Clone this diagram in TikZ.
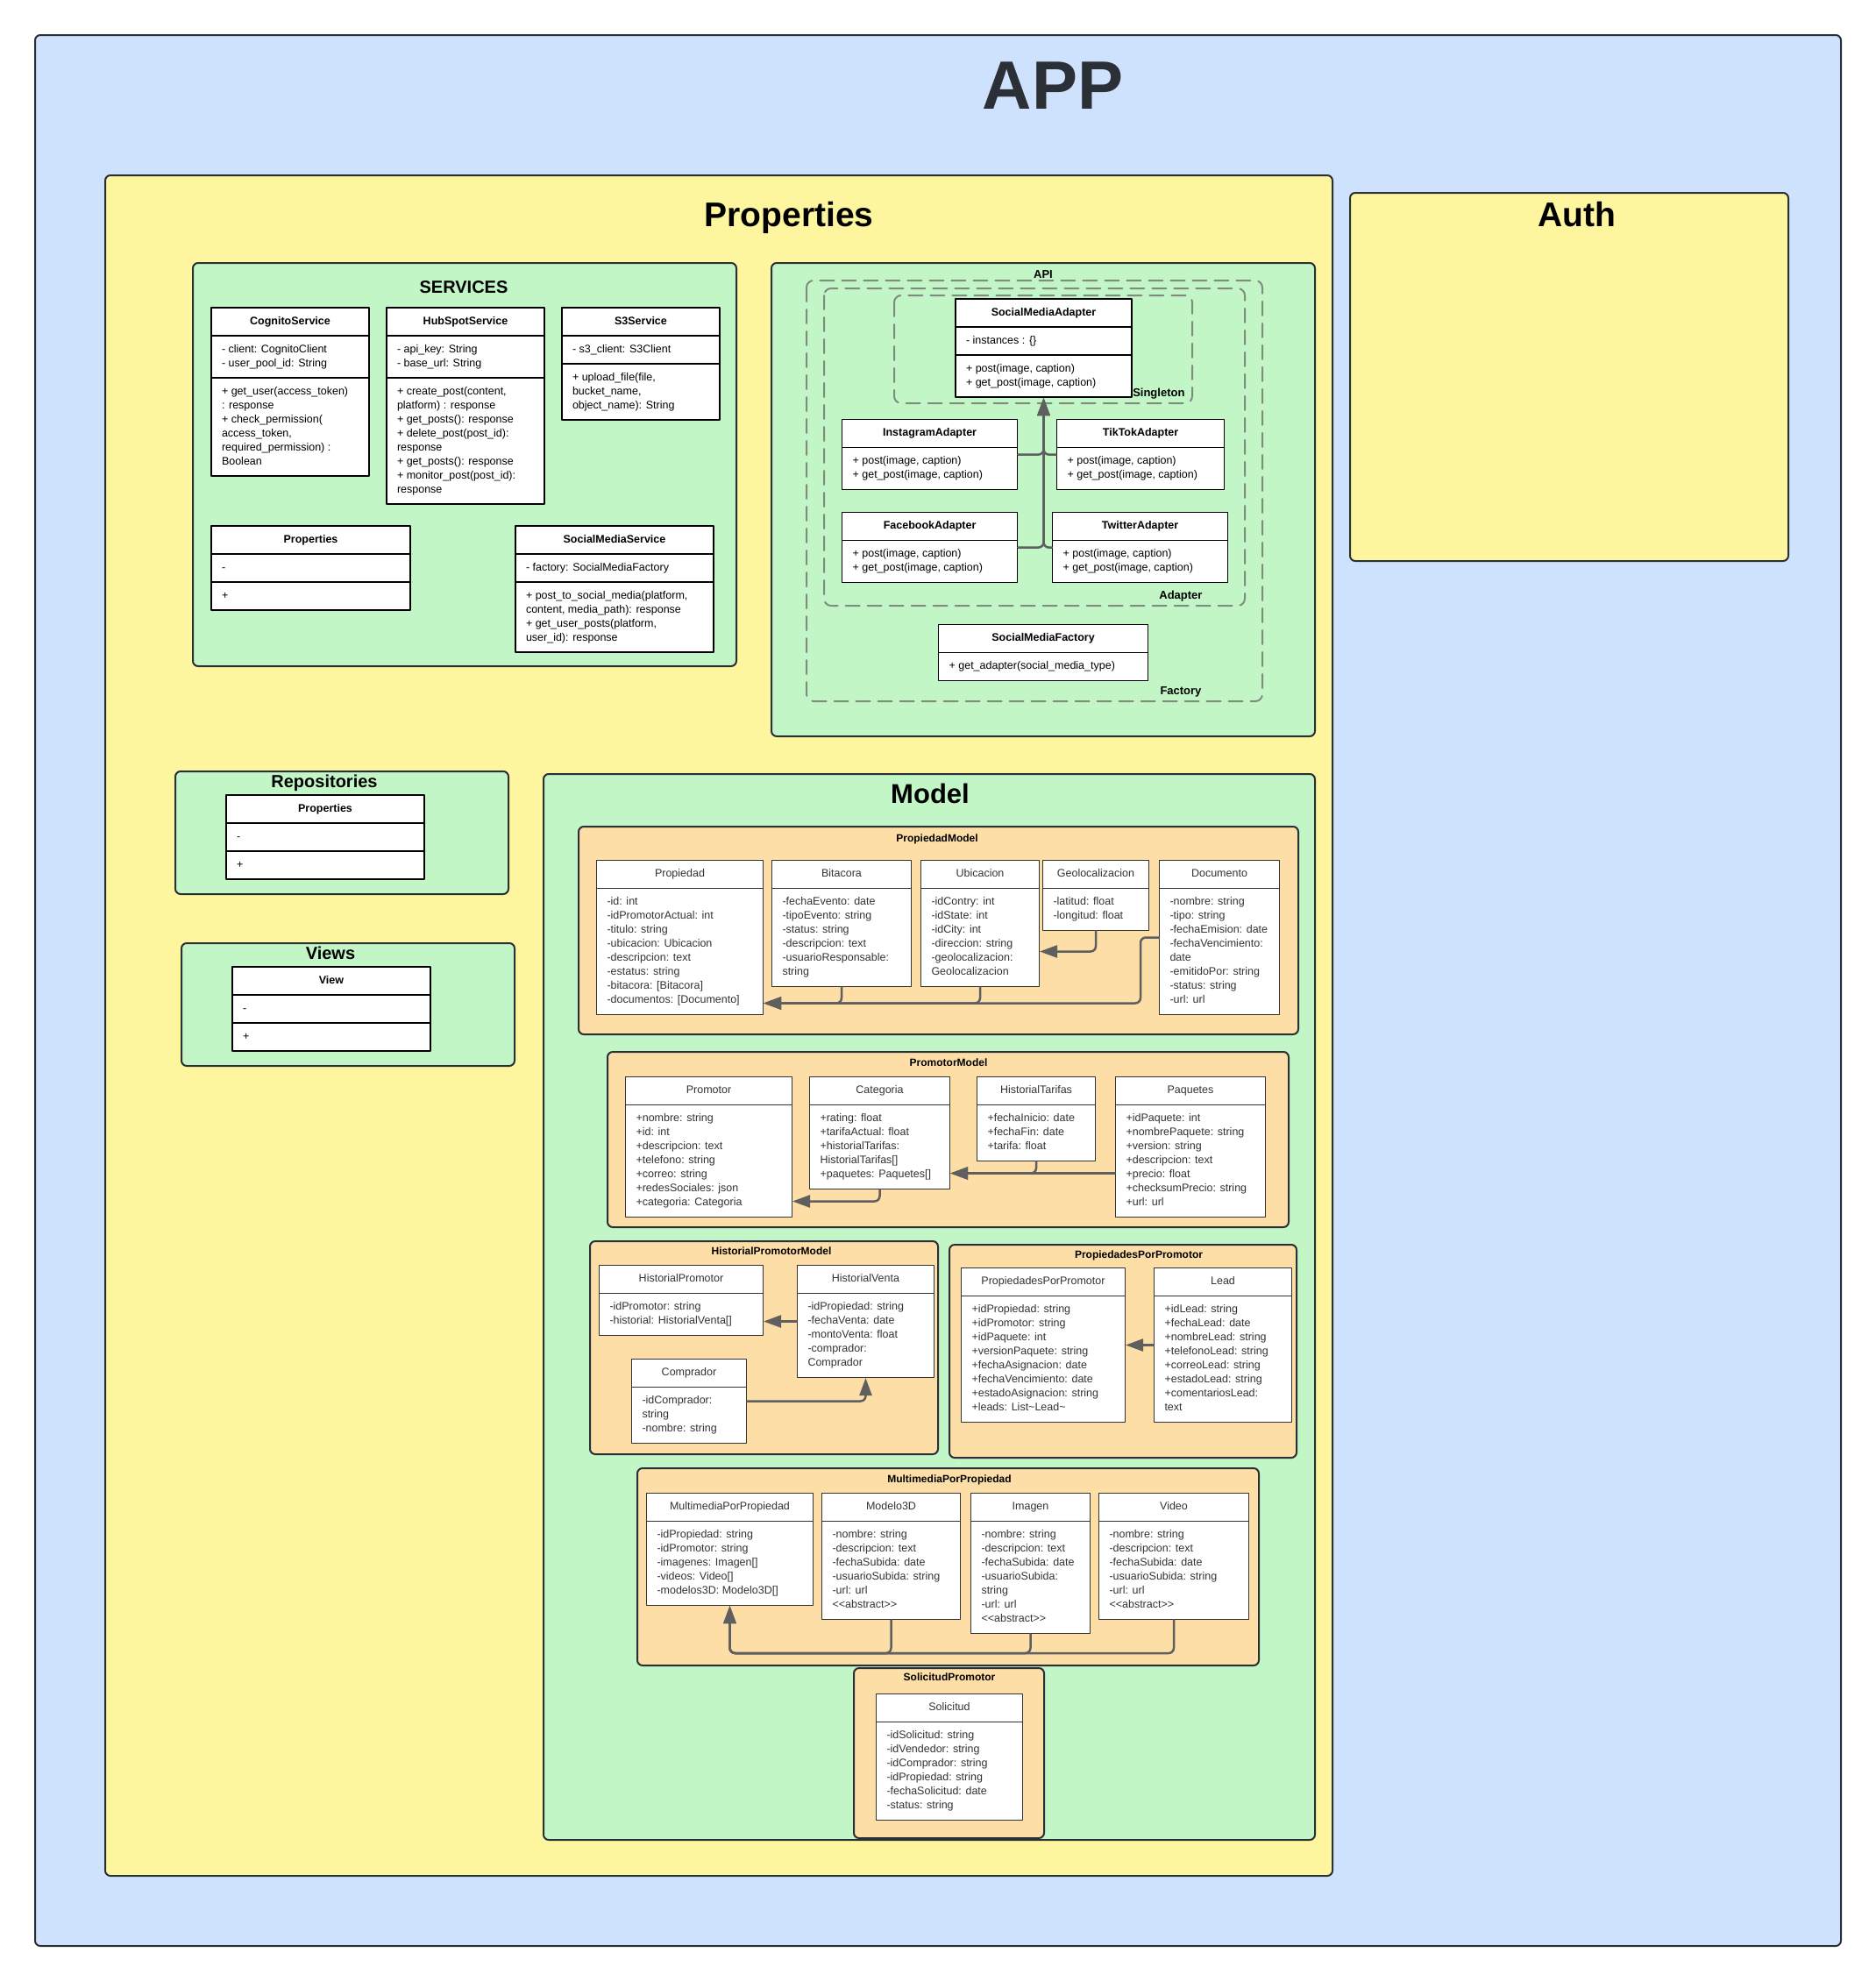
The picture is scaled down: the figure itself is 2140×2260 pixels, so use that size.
\documentclass[tikz,border=0pt]{standalone}
\usepackage{fontspec}
\setmainfont{Liberation Sans}
\usetikzlibrary{arrows.meta,shapes.multipart}
\definecolor{appblue}{HTML}{CFE2FD}
\definecolor{propyellow}{HTML}{FEF59F}
\definecolor{pkggreen}{HTML}{C3F6C6}
\definecolor{mdlorange}{HTML}{FEDEA7}
\definecolor{linedark}{HTML}{2B2F36}
\definecolor{arrgray}{HTML}{5F5F5F}
\definecolor{dashgray}{HTML}{808C80}
\definecolor{mdltext}{HTML}{333333}
\newcommand{\clsfont}{\fontsize{12.5}{16}\selectfont}
% class boxes: [style]{name}{x}{y}{width}{header}{body...}
\newcommand{\clsduo}[7][]{\node[cls2,#1,minimum width=#5] (#2) at (#3,#4)
  {\strut#6\nodepart{second}\strut#7\strut};}
\newcommand{\clstri}[8][]{\node[cls3,#1,minimum width=#5] (#2) at (#3,#4)
  {\strut\textbf{#6}\nodepart{second}\strut#7\strut\nodepart{third}\strut#8\strut};}
\begin{document}
\begin{tikzpicture}[x=1pt, y=-1pt, line join=round, line cap=round,
  pkg/.style={draw=linedark, line width=2pt, rounded corners=6pt},
  patbox/.style={draw=dashgray, line width=2pt, dash pattern=on 16pt off 9pt, rounded corners=8pt},
  cls3/.style={rectangle split, rectangle split parts=3, rectangle split part align={center,left,left},
    draw=black, line width=2pt, fill=white, anchor=north west, align=left, font=\clsfont,
    inner xsep=12pt, inner ysep=7pt},
  cls2/.style={cls3, rectangle split parts=2, rectangle split part align={center,left}, line width=1.2pt,
    inner ysep=7.4pt},
  mdl/.style={draw=mdltext, line width=1pt, text=mdltext, inner ysep=7.5pt},
  inh/.style={draw=arrgray, line width=2.5pt, rounded corners=6pt, -{Triangle[length=20pt,width=14pt]}},
  bigtitle/.style={font=\fontsize{78}{80}\selectfont\bfseries, text=linedark, anchor=base},
  pkgtitle/.style={font=\fontsize{39}{42}\selectfont\bfseries, anchor=base},
  subtitle/.style={font=\fontsize{20}{24}\selectfont\bfseries, anchor=base},
  smalltitle/.style={font=\fontsize{12}{14}\selectfont\bfseries, anchor=base},
  lbl/.style={font=\fontsize{13}{15}\selectfont\bfseries, anchor=base east}]
\useasboundingbox (0,0) rectangle (2140,2260);
% containers
\draw[pkg, fill=appblue] (40,40) rectangle (2100,2220);
\node[bigtitle] (apptitle) at (1201,124) {APP};
\draw[pkg, fill=propyellow] (120,200) rectangle (1520,2140);
\node[pkgtitle] (proptitle) at (900,258) {Properties};
\draw[pkg, fill=propyellow] (1540,220) rectangle (2040,640);
\node[pkgtitle] (authtitle) at (1799,258) {Auth};
\draw[pkg, fill=pkggreen] (220,300) rectangle (840,760);
\node[subtitle] (svctitle) at (529,334) {SERVICES};
\draw[pkg, fill=pkggreen] (880,300) rectangle (1500,840);
\node[lbl, anchor=base] (apititle) at (1190,317) {API};
\draw[pkg, fill=pkggreen] (200,880) rectangle (580,1020);
\node[subtitle] (repotitle) at (370,898) {Repositories};
\draw[pkg, fill=pkggreen] (207,1076) rectangle (587,1216);
\node[subtitle] (viewtitle) at (377,1094) {Views};
\draw[pkg, fill=pkggreen] (620,883) rectangle (1500,2099);
\node[font=\fontsize{31}{34}\selectfont\bfseries, anchor=base] (mdltitle) at (1061,916) {Model};
\draw[pkg, fill=mdlorange] (660,943) rectangle (1481,1180);
\node[smalltitle] (propmdl) at (1069,960) {PropiedadModel};
\draw[pkg, fill=mdlorange] (693,1200) rectangle (1470,1400);
\node[smalltitle] (prommdl) at (1082,1216) {PromotorModel};
\draw[pkg, fill=mdlorange] (673,1416) rectangle (1070,1659);
\node[smalltitle] (histmdl) at (880,1431) {HistorialPromotorModel};
\draw[pkg, fill=mdlorange] (1083,1420) rectangle (1479,1663);
\node[smalltitle] (pppmdl) at (1299,1435) {PropiedadesPorPromotor};
\draw[pkg, fill=mdlorange] (727,1675) rectangle (1436,1900);
\node[smalltitle] (mpmdl) at (1083,1691) {MultimediaPorPropiedad};
\draw[pkg, fill=mdlorange] (974,1903) rectangle (1191,2097);
\node[smalltitle] (solmdl) at (1083,1917) {SolicitudPromotor};
% patterns in API
\draw[patbox] (920,320) rectangle (1440,800);
\draw[patbox] (940,329) rectangle (1420,691);
\draw[patbox] (1020,337) rectangle (1360,460);
\node[lbl] (factlbl) at (1374,792) {Factory};
\node[lbl] (adaplbl) at (1375,683) {Adapter};
\node[lbl] (singlbl) at (1355,452) {Singleton};
% services
\clstri{cognito}{240}{350}{180}{CognitoService}{- client: CognitoClient\\- user\_pool\_id: String}
  {+ get\_user(access\_token)\\: response\\+ check\_permission(\\access\_token,\\required\_permission) :\\Boolean}
\clstri{hubspot}{440}{350}{180}{HubSpotService}{- api\_key: String\\- base\_url: String}
  {+ create\_post(content,\\platform) : response\\+ get\_posts(): response\\+ delete\_post(post\_id):\\response\\+ get\_posts(): response\\+ monitor\_post(post\_id):\\response}
\clstri{sthree}{640}{350}{180}{S3Service}{- s3\_client: S3Client}{+ upload\_file(file,\\bucket\_name,\\object\_name): String}
\clstri{propsvc}{240}{599}{227}{Properties}{-}{+}
\clstri{smsvc}{587}{599}{226}{SocialMediaService}{- factory: SocialMediaFactory}
  {+ post\_to\_social\_media(platform,\\content, media\_path): response\\+ get\_user\_posts(platform,\\user\_id): response}
\clstri{repoprop}{257}{906}{226}{Properties}{-}{+}
\clstri{view}{264}{1102}{226}{View}{-}{+}
% api
\clstri{sma}{1089}{340}{201}{SocialMediaAdapter}{- instances : \{\}}{+ post(image, caption)\\+ get\_post(image, caption)}
\clsduo{insta}{960}{478}{200}{\textbf{InstagramAdapter}}{+ post(image, caption)\\+ get\_post(image, caption)}
\clsduo{tiktok}{1205}{478}{191}{\textbf{TikTokAdapter}}{+ post(image, caption)\\+ get\_post(image, caption)}
\clsduo{facebook}{960}{584}{200}{\textbf{FacebookAdapter}}{+ post(image, caption)\\+ get\_post(image, caption)}
\clsduo{twitter}{1200}{584}{200}{\textbf{TwitterAdapter}}{+ post(image, caption)\\+ get\_post(image, caption)}
\clsduo{factory}{1070}{712}{239}{\textbf{SocialMediaFactory}}{+ get\_adapter(social\_media\_type)}
\foreach \a in {insta,facebook} \draw[inh] (\a.east) -| (sma.south);
\foreach \a in {tiktok,twitter} \draw[inh] (\a.west) -| (sma.south);
% model
\clsduo[mdl]{prop}{680}{981}{190}{Propiedad}{-id: int\\-idPromotorActual: int\\-titulo: string\\-ubicacion: Ubicacion\\-descripcion: text\\-estatus: string\\-bitacora: [Bitacora]\\-documentos: [Documento]}
\clsduo[mdl]{bitacora}{880}{981}{159}{Bitacora}{-fechaEvento: date\\-tipoEvento: string\\-status: string\\-descripcion: text\\-usuarioResponsable:\\string}
\clsduo[mdl]{ubic}{1050}{981}{135}{Ubicacion}{-idContry: int\\-idState: int\\-idCity: int\\-direccion: string\\-geolocalizacion:\\Geolocalizacion}
\clsduo[mdl]{geo}{1189}{981}{121}{Geolocalizacion}{-latitud: float\\-longitud: float}
\clsduo[mdl]{docu}{1322}{981}{137}{Documento}{-nombre: string\\-tipo: string\\-fechaEmision: date\\-fechaVencimiento:\\date\\-emitidoPor: string\\-status: string\\-url: url}
\coordinate (propin) at ([yshift=-75pt]prop.east);
\draw[inh] (geo.south) |- ([yshift=-32pt]ubic.east);
\draw[inh] (bitacora.south) |- (propin);
\draw[inh] (ubic.south) |- (propin);
\draw[inh] (docu.west) -- ++(-21,0) |- (propin);
\clsduo[mdl]{promotor}{713}{1228}{190}{Promotor}{+nombre: string\\+id: int\\+descripcion: text\\+telefono: string\\+correo: string\\+redesSociales: json\\+categoria: Categoria}
\clsduo[mdl]{categoria}{923}{1228}{160}{Categoria}{+rating: float\\+tarifaActual: float\\+historialTarifas:\\HistorialTarifas[]\\+paquetes: Paquetes[]}
\clsduo[mdl]{tarifas}{1114}{1228}{135}{HistorialTarifas}{+fechaInicio: date\\+fechaFin: date\\+tarifa: float}
\clsduo[mdl]{paquetes}{1272}{1228}{171}{Paquetes}{+idPaquete: int\\+nombrePaquete: string\\+version: string\\+descripcion: text\\+precio: float\\+checksumPrecio: string\\+url: url}
\coordinate (catin) at ([yshift=-46pt]categoria.east);
\draw[inh] (categoria.south) |- ([yshift=-62pt]promotor.east);
\draw[inh] (tarifas.south) |- (catin);
\draw[inh] (paquetes.west |- catin) -- (catin);
\clsduo[mdl]{histprom}{683}{1443}{187}{HistorialPromotor}{-idPromotor: string\\-historial: HistorialVenta[]}
\clsduo[mdl]{histventa}{909}{1443}{156}{HistorialVenta}{-idPropiedad: string\\-fechaVenta: date\\-montoVenta: float\\-comprador:\\Comprador}
\clsduo[mdl]{comprador}{720}{1550}{131}{Comprador}{-idComprador:\\string\\-nombre: string}
\draw[inh] (histventa.west) -- (histventa.west -| histprom.east);
\draw[inh] (comprador.east) -| (histventa.south);
\clsduo[mdl]{ppp}{1096}{1446}{187}{PropiedadesPorPromotor}{+idPropiedad: string\\+idPromotor: string\\+idPaquete: int\\+versionPaquete: string\\+fechaAsignacion: date\\+fechaVencimiento: date\\+estadoAsignacion: string\\+leads: List\textasciitilde Lead\textasciitilde}
\clsduo[mdl]{lead}{1316}{1446}{157}{Lead}{+idLead: string\\+fechaLead: date\\+nombreLead: string\\+telefonoLead: string\\+correoLead: string\\+estadoLead: string\\+comentariosLead:\\text}
\draw[inh] (lead.west) -- (lead.west -| ppp.east);
\clsduo[mdl]{multi}{737}{1703}{190}{MultimediaPorPropiedad}{-idPropiedad: string\\-idPromotor: string\\-imagenes: Imagen[]\\-videos: Video[]\\-modelos3D: Modelo3D[]}
\clsduo[mdl]{modelo}{937}{1703}{158}{Modelo3D}{-nombre: string\\-descripcion: text\\-fechaSubida: date\\-usuarioSubida: string\\-url: url\\<{}<abstract>{}>}
\clsduo[mdl]{imagen}{1107}{1703}{136}{Imagen}{-nombre: string\\-descripcion: text\\-fechaSubida: date\\-usuarioSubida:\\string\\-url: url\\<{}<abstract>{}>}
\clsduo[mdl]{video}{1253}{1703}{171}{Video}{-nombre: string\\-descripcion: text\\-fechaSubida: date\\-usuarioSubida: string\\-url: url\\<{}<abstract>{}>}
\coordinate (mbus) at (multi.south |- 0,1886);
\foreach \a in {modelo,imagen,video} \draw[inh] (\a.south) |- (mbus) -- (multi.south);
\clsduo[mdl]{solicitud}{999}{1932}{167}{Solicitud}{-idSolicitud: string\\-idVendedor: string\\-idComprador: string\\-idPropiedad: string\\-fechaSolicitud: date\\-status: string}
\end{tikzpicture}
\end{document}
